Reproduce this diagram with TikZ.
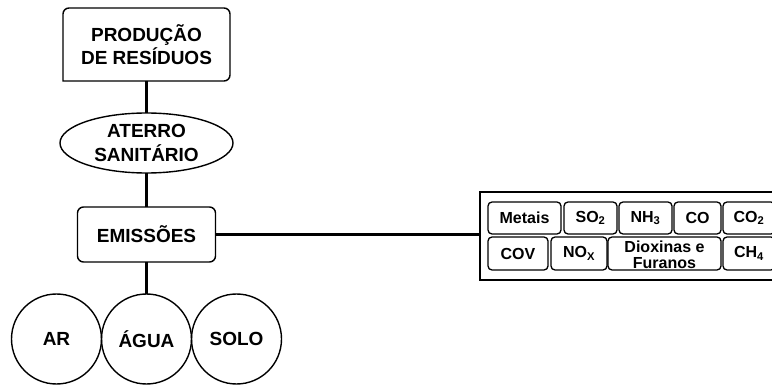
\documentclass[tikz,border=0pt]{standalone}
\usepackage{fontspec}
\setmainfont{Liberation Sans}
\usetikzlibrary{shapes.geometric}

\begin{document}
\begin{tikzpicture}[x=1pt,y=-1pt,
  big/.style={font=\bfseries\fontsize{19}{23.5}\selectfont, align=center, inner sep=0pt, outer sep=0pt},
  link/.style={line width=3.5pt},
  outline/.style={line width=1.4pt},
  blob/.style={big, draw, outline, circle, minimum size=90pt},
  chip/.style={draw, line width=1.3pt, rounded corners=4pt, inner sep=0pt, outer sep=0pt,
    anchor=north west, align=center, font=\bfseries\fontsize{16}{16}\selectfont},
]
\useasboundingbox (0,0) rectangle (772,385);
\clip (0,0) rectangle (772,385);

% main chain
\node[big, minimum width=167pt, minimum height=73pt] (prod) at (146.5,44.5) {PRODUÇÃO\\DE RESÍDUOS};
\draw[outline, rounded corners=6pt, line cap=rect]
  (prod.south west) -- (prod.north west) -- (prod.north east) -- (prod.south east) -- (prod.south west);
\node[big, draw, outline, ellipse, minimum width=173pt, minimum height=60pt] (aterro) at (146.5,143) {ATERRO\\SANITÁRIO};
\node[big, draw, outline, rounded corners=6pt, minimum width=138pt, minimum height=55pt] (emis) at (146.5,234.5) {EMISSÕES};

% receiving media
\node[blob] (ar) at (56.5,339) {AR};
\node[blob] (agua) at (146.5,339) {ÁGUA};
\node[blob] (solo) at (236.5,339) {SOLO};

% pollutant panel
\node[draw, line width=2pt, minimum width=320pt, minimum height=88pt, anchor=west, inner sep=0pt] (gases) at (479,236) {};
\node[chip, minimum width=73pt, minimum height=32pt] (metais) at (488,202) {Metais};
\node[chip, minimum width=53pt, minimum height=32pt] (so2) at (564,202) {SO\textsubscript{2}};
\node[chip, minimum width=53pt, minimum height=32pt] (nh3) at (619,202) {NH\textsubscript{3}};
\node[chip, minimum width=47pt, minimum height=32pt] (co) at (674,202) {CO};
\node[chip, minimum width=52pt, minimum height=32pt] (co2) at (723,202) {CO\textsubscript{2}};
\node[chip, minimum width=60pt, minimum height=33pt] (cov) at (488,237) {COV};
\node[chip, minimum width=56pt, minimum height=33pt] (nox) at (551,237) {NO\textsubscript{X}};
\node[chip, minimum width=113pt, minimum height=33pt] (diox) at (608,237) {};
\node[inner sep=0pt, align=center, font=\bfseries\fontsize{16}{16.5}\selectfont, anchor=base]
  (dioxtxt) at (664.5,269) {Dioxinas e\\Furanos};
\node[chip, minimum width=52pt, minimum height=33pt] (ch4) at (723,237) {CH\textsubscript{4}};

% connectors
\draw[link] (prod) -- (aterro);
\draw[link] (aterro) -- (emis);
\draw[link] (emis) -- (agua);
\draw[link] (emis.east) -- (emis.east -| gases.west);
\end{tikzpicture}
\end{document}
